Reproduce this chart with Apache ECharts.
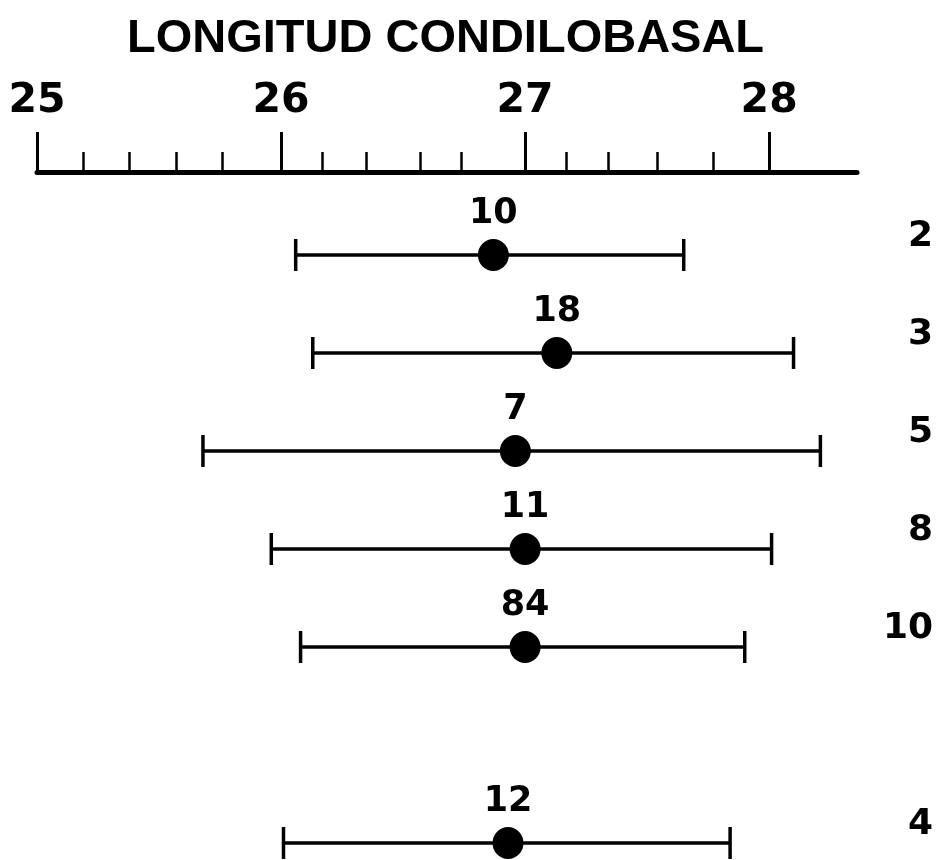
<!DOCTYPE html>
<html><head><meta charset="utf-8">
<script src="https://cdn.jsdelivr.net/npm/echarts@6/dist/echarts.min.js"></script>
<style>html,body{margin:0;padding:0;background:#fff}#c{width:936px;height:860px}</style>
</head><body><div id="c"></div>
<script>
// ---- data ----
const groups      = ['2', '3', '5', '8', '10', '', '4'];
const sampleSizes = [10, 18, 7, 11, 84, null, 12];
const means       = [26.87, 27.13, 26.96, 27.00, 27.00, null, 26.93];
const lows        = [26.06, 26.13, 25.68, 25.96, 26.08, null, 26.01];
const highs       = [27.65, 28.10, 28.21, 28.01, 27.90, null, 27.84];
const majorTicks  = [25, 26, 27, 28];
const minorTicks  = [25.19, 25.38, 25.57, 25.76, 26.17, 26.35, 26.57, 26.74, 27.17, 27.34, 27.54, 27.77];
const axisTitle   = 'LONGITUD CONDILOBASAL';

const barData = [];
const dotData = [];
groups.forEach((g, i) => {
  if (means[i] == null) return;
  barData.push([lows[i], highs[i], i]);
  dotData.push({ value: [means[i], i], n: sampleSizes[i] });
});

const chart = echarts.init(document.getElementById('c'), null, { renderer: 'canvas' });
const digitFont = 'DejaVu Sans';
chart.setOption({
  animation: false,
  backgroundColor: '#fff',
  title: {
    text: axisTitle, left: 127, top: 16, padding: 0,
    textStyle: { fontSize: 47, fontWeight: 'bold', fontFamily: 'Liberation Sans', color: '#000' }
  },
  grid: { left: 37, right: 78, top: 255, bottom: 17, containLabel: false },
  xAxis: [{
    type: 'value', position: 'top', offset: 83, min: 25, max: 28.36,
    axisLine: { show: true, lineStyle: { color: '#000', width: 5 } },
    axisTick: { show: true, customValues: majorTicks, length: 40, inside: false, lineStyle: { color: '#000', width: 3 } },
    axisLabel: { show: true, customValues: majorTicks, margin: 50, fontSize: 41, fontWeight: 'bold', fontFamily: digitFont, color: '#000' },
    splitLine: { show: false }
  }, {
    type: 'value', position: 'top', offset: 83, min: 25, max: 28.36,
    axisLine: { show: false },
    axisTick: { show: true, customValues: minorTicks, length: 20, inside: false, lineStyle: { color: '#000', width: 2.5 } },
    axisLabel: { show: false },
    splitLine: { show: false }
  }],
  yAxis: {
    type: 'category', data: groups, inverse: true, boundaryGap: false, position: 'right',
    axisLine: { show: false }, axisTick: { show: false }, splitLine: { show: false },
    axisLabel: { show: true, interval: 0, align: 'right', verticalAlign: 'bottom', lineHeight: 37, margin: 76,
      fontSize: 36, fontWeight: 'bold', fontFamily: digitFont, color: '#000' }
  },
  series: [{
    type: 'custom', xAxisIndex: 0, data: barData,
    encode: { x: [0, 1], y: 2 },
    renderItem: function (params, api) {
      const idx = api.value(2);
      const a = api.coord([api.value(0), idx]);
      const b = api.coord([api.value(1), idx]);
      const h = 16;
      const st = { stroke: '#000', lineWidth: 3.5 };
      return { type: 'group', children: [
        { type: 'line', shape: { x1: a[0], y1: a[1], x2: b[0], y2: b[1] }, style: st },
        { type: 'line', shape: { x1: a[0], y1: a[1] - h, x2: a[0], y2: a[1] + h }, style: st },
        { type: 'line', shape: { x1: b[0], y1: b[1] - h, x2: b[0], y2: b[1] + h }, style: st }
      ] };
    },
    z: 2
  }, {
    type: 'scatter', xAxisIndex: 0, data: dotData, symbol: 'circle', symbolSize: [31, 32],
    itemStyle: { color: '#000', opacity: 1 },
    emphasis: { disabled: true },
    label: { show: true, position: 'top', distance: 8, formatter: p => String(p.data.n),
      fontSize: 35, fontWeight: 'bold', fontFamily: digitFont, color: '#000', opacity: 1 },
    z: 3
  }]
});
</script></body></html>
